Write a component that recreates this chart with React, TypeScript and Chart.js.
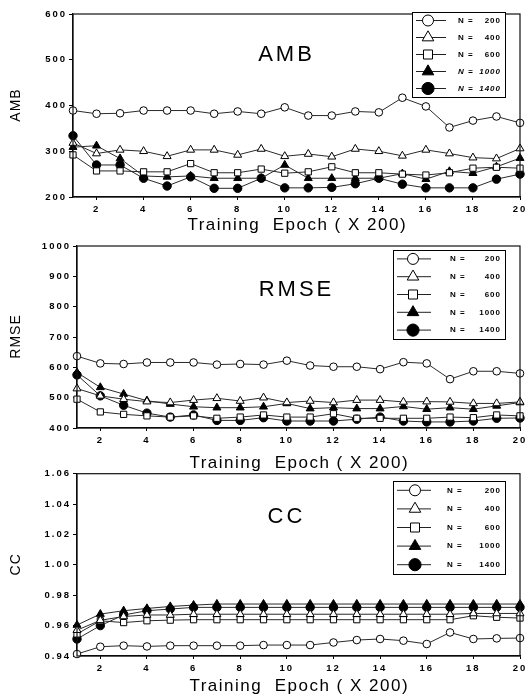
import React, { useEffect, useRef } from 'react';
import { Chart, registerables } from 'chart.js';

Chart.register(...registerables);

// ---------- data ----------
const epochs = [1, 2, 3, 4, 5, 6, 7, 8, 9, 10, 11, 12, 13, 14, 15, 16, 17, 18, 19, 20];
const xTickValues = [2, 4, 6, 8, 10, 12, 14, 16, 18, 20];
const seriesLabels = ['N =  200', 'N =  400', 'N =  600', 'N = 1000', 'N = 1400'];

const ambN200 = [389, 382, 383, 389, 389, 389, 382, 387, 382, 396, 378, 378, 387, 385, 417, 398, 352, 367, 376, 362];
const ambN400 = [318, 295, 303, 300, 289, 303, 303, 292, 305, 289, 294, 288, 305, 300, 290, 303, 295, 286, 284, 306];
const ambN600 = [292, 257, 257, 255, 255, 273, 253, 253, 261, 252, 255, 266, 253, 253, 250, 248, 253, 263, 265, 263];
const ambN1000 = [309, 312, 284, 246, 244, 246, 241, 241, 241, 270, 241, 241, 241, 241, 251, 239, 256, 252, 266, 285];
const ambN1400 = [334, 270, 270, 241, 224, 244, 219, 219, 241, 220, 220, 221, 229, 241, 228, 220, 220, 220, 239, 250];
const ambTicks = [200, 300, 400, 500, 600];

const rmseN200 = [637, 613, 611, 616, 616, 616, 609, 611, 609, 622, 606, 602, 602, 594, 617, 613, 561, 587, 587, 580];
const rmseN400 = [530, 506, 495, 487, 484, 492, 498, 489, 500, 484, 489, 484, 492, 492, 486, 487, 486, 481, 481, 486];
const rmseN600 = [495, 453, 445, 440, 436, 440, 432, 436, 443, 436, 436, 447, 432, 432, 432, 432, 436, 434, 443, 440];
const rmseN1000 = [583, 534, 512, 490, 479, 470, 467, 467, 470, 481, 464, 467, 464, 464, 471, 462, 467, 462, 473, 484];
const rmseN1400 = [575, 506, 475, 449, 436, 443, 425, 425, 434, 423, 423, 423, 429, 436, 423, 420, 420, 423, 432, 433];
const rmseTicks = [400, 500, 600, 700, 800, 900, 1000];

const ccN200 = [0.9413, 0.9461, 0.9468, 0.9463, 0.9468, 0.9468, 0.9468, 0.9468, 0.9472, 0.9472, 0.9472, 0.9489, 0.9505, 0.9512, 0.9501, 0.9479, 0.9555, 0.9512, 0.9516, 0.9518];
const ccN400 = [0.9570, 0.9635, 0.9660, 0.9670, 0.9670, 0.9675, 0.9675, 0.9675, 0.9675, 0.9675, 0.9675, 0.9675, 0.9675, 0.9675, 0.9675, 0.9675, 0.9675, 0.9680, 0.9680, 0.9680];
const ccN600 = [0.9545, 0.9632, 0.9620, 0.9632, 0.9636, 0.9639, 0.9639, 0.9639, 0.9639, 0.9639, 0.9639, 0.9639, 0.9639, 0.9639, 0.9639, 0.9639, 0.9639, 0.9665, 0.9655, 0.9650];
const ccN1000 = [0.9604, 0.9676, 0.9698, 0.9713, 0.9726, 0.9735, 0.9742, 0.9742, 0.9742, 0.9742, 0.9742, 0.9742, 0.9742, 0.9742, 0.9742, 0.9742, 0.9742, 0.9742, 0.9742, 0.9742];
const ccN1400 = [0.9512, 0.9600, 0.9670, 0.9698, 0.9709, 0.9720, 0.9720, 0.9720, 0.9720, 0.9720, 0.9720, 0.9720, 0.9720, 0.9720, 0.9720, 0.9720, 0.9720, 0.9720, 0.9720, 0.9720];
const ccTicks = [0.94, 0.96, 0.98, 1.0, 1.02, 1.04, 1.06];

// ---------- styles ----------
const FONT = '"Liberation Sans", Arial, sans-serif';
const markerStyles = ['circle', 'triangle', 'rect', 'triangle', 'circle'];
const markerFills = ['#ffffff', '#ffffff', '#ffffff', '#000000', '#000000'];
const markerRadii = [3.8, 4.6, 4.4, 4.6, 4.2];

type PanelCfg = {
  top: number;
  height: number;
  padTop: number;
  yAxisWidth: number;
  xAxisHeight: number;
  padRight: number;
  yMin: number;
  yMax: number;
  yTicks: number[];
  decimals: number;
  yTitle: string;
  inner: string;
  innerX: number;
  innerY: number;
  xTitleY: number;
  yTitleX: number;
  legend: { x: number; y: number; w: number; h: number; lx0: number; lx1: number; mx: number; tx: number; nr: number; italicBig: boolean };
  series: number[][];
};

const panels: PanelCfg[] = [
  {
    top: 0, height: 240, padTop: 14, yAxisWidth: 73, xAxisHeight: 43, padRight: 12,
    yMin: 200, yMax: 600, yTicks: ambTicks, decimals: 0,
    yTitle: 'AMB', inner: 'AMB', innerX: 285, innerY: 55, xTitleY: 225, yTitleX: 16,
    legend: { x: 412, y: 12, w: 93, h: 85, lx0: 4, lx1: 34, mx: 16, tx: 46, nr: 89, italicBig: true },
    series: [ambN200, ambN400, ambN600, ambN1000, ambN1400],
  },
  {
    top: 236, height: 236, padTop: 10, yAxisWidth: 77, xAxisHeight: 44, padRight: 12,
    yMin: 400, yMax: 1000, yTicks: rmseTicks, decimals: 0,
    yTitle: 'RMSE', inner: 'RMSE', innerX: 295, innerY: 54, xTitleY: 227, yTitleX: 16,
    legend: { x: 393, y: 14, w: 112, h: 89, lx0: 4, lx1: 38, mx: 20, tx: 57, nr: 108, italicBig: false },
    series: [rmseN200, rmseN400, rmseN600, rmseN1000, rmseN1400],
  },
  {
    top: 466, height: 233, padTop: 7, yAxisWidth: 77, xAxisHeight: 43, padRight: 12,
    yMin: 0.94, yMax: 1.06, yTicks: ccTicks, decimals: 2,
    yTitle: 'CC', inner: 'CC', innerX: 285, innerY: 51, xTitleY: 220, yTitleX: 16,
    legend: { x: 393, y: 15, w: 112, h: 93, lx0: 4, lx1: 38, mx: 22, tx: 54, nr: 108, italicBig: false },
    series: [ccN200, ccN400, ccN600, ccN1000, ccN1400],
  },
];

function drawMarker(ctx: CanvasRenderingContext2D, style: string, r: number, x: number, y: number) {
  ctx.beginPath();
  if (style === 'circle') {
    ctx.arc(x, y, r, 0, Math.PI * 2);
  } else if (style === 'triangle') {
    const a = -Math.PI / 2;
    for (let k = 0; k < 3; k++) {
      const ang = a + (k * 2 * Math.PI) / 3;
      const px = x + Math.cos(ang) * r;
      const py = y + Math.sin(ang) * r;
      if (k === 0) ctx.moveTo(px, py);
      else ctx.lineTo(px, py);
    }
    ctx.closePath();
  } else {
    const s = r * Math.SQRT1_2;
    ctx.rect(x - s, y - s, 2 * s, 2 * s);
  }
  ctx.fill();
  ctx.lineWidth = 1;
  ctx.stroke();
}

// letter spacing for the tick labels (scales are drawn between beforeDraw and beforeDatasetsDraw)
const spacingPlugin = {
  id: 'tickSpacing',
  beforeDraw(chart: any) {
    (chart.ctx as any).letterSpacing = '2px';
  },
  beforeDatasetsDraw(chart: any) {
    (chart.ctx as any).letterSpacing = '0px';
  },
};

const decorPlugin = {
  id: 'decor',
  afterDraw(chart: any, _args: any, opts: any) {
    const cfg: PanelCfg = opts.cfg;
    const { ctx, chartArea } = chart;
    const ca = chartArea;
    ctx.save();
    // frame
    ctx.strokeStyle = '#111';
    ctx.lineWidth = 1.2;
    ctx.strokeRect(ca.left, ca.top, ca.right - ca.left, ca.bottom - ca.top);

    ctx.fillStyle = '#000';
    ctx.textAlign = 'center';
    ctx.textBaseline = 'middle';

    // inner title
    ctx.font = `22px ${FONT}`;
    (ctx as any).letterSpacing = '3px';
    ctx.fillText(cfg.inner, cfg.innerX + 1.5, cfg.innerY);

    // x title
    ctx.font = `17px ${FONT}`;
    (ctx as any).letterSpacing = '1.5px';
    ctx.fillText('Training  Epoch ( X 200)', (ca.left + ca.right) / 2 + 0.75, cfg.xTitleY);

    // y title
    ctx.save();
    ctx.translate(cfg.yTitleX, (ca.top + ca.bottom) / 2);
    ctx.rotate(-Math.PI / 2);
    ctx.font = `14px ${FONT}`;
    (ctx as any).letterSpacing = '1px';
    ctx.fillText(cfg.yTitle, 0.5, 0);
    ctx.restore();

    // legend
    (ctx as any).letterSpacing = '0px';
    const L = cfg.legend;
    ctx.fillStyle = '#fff';
    ctx.fillRect(L.x, L.y, L.w, L.h);
    ctx.strokeStyle = '#000';
    ctx.lineWidth = 1;
    ctx.strokeRect(L.x + 0.5, L.y + 0.5, L.w, L.h);
    const rowH = L.h / 5;
    chart.data.datasets.forEach((ds: any, i: number) => {
      const y = L.y + rowH * (i + 0.5);
      ctx.strokeStyle = '#222';
      ctx.lineWidth = 1;
      ctx.beginPath();
      ctx.moveTo(L.x + L.lx0, y);
      ctx.lineTo(L.x + L.lx1, y);
      ctx.stroke();
      ctx.fillStyle = markerFills[i];
      ctx.strokeStyle = '#000';
      drawMarker(ctx, markerStyles[i], markerRadii[i] * 1.45, L.x + L.mx, y);
      const label: string = ds.label;
      const parts = label.split('=');
      const italic = L.italicBig && i >= 3 ? 'italic ' : '';
      ctx.font = `${italic}bold 8px ${FONT}`;
      (ctx as any).letterSpacing = '1px';
      ctx.fillStyle = '#000';
      ctx.textAlign = 'left';
      ctx.fillText(parts[0].trim() + ' =', L.x + L.tx, y);
      ctx.textAlign = 'right';
      ctx.fillText(parts[1].trim(), L.x + L.nr, y);
      (ctx as any).letterSpacing = '0px';
    });
    ctx.restore();
  },
};

function Panel({ cfg }: { cfg: PanelCfg }) {
  const ref = useRef<HTMLCanvasElement | null>(null);
  useEffect(() => {
    if (!ref.current) return;
    const datasets = cfg.series.map((vals, i) => ({
      label: seriesLabels[i],
      data: epochs.map((e, j) => ({ x: e, y: vals[j] })),
      borderColor: '#2a2a2a',
      borderWidth: 1,
      pointStyle: markerStyles[i] as any,
      pointRadius: markerRadii[i],
      pointBackgroundColor: markerFills[i],
      pointBorderColor: '#000',
      pointBorderWidth: 1,
      tension: 0,
      clip: false as any,
    }));
    const chart = new Chart(ref.current, {
      type: 'line',
      data: { datasets },
      plugins: [spacingPlugin as any, decorPlugin as any],
      options: {
        animation: false,
        responsive: false,
        devicePixelRatio: 1,
        events: [],
        layout: { padding: { top: cfg.padTop, right: cfg.padRight, left: 0, bottom: 0 } },
        plugins: {
          legend: { display: false },
          tooltip: { enabled: false },
          decor: { cfg },
        } as any,
        scales: {
          x: {
            type: 'linear',
            min: 1,
            max: 20,
            afterBuildTicks: (scale: any) => {
              scale.ticks = xTickValues.map((v) => ({ value: v }));
            },
            afterFit: (scale: any) => {
              scale.height = cfg.xAxisHeight;
            },
            grid: { display: true, drawOnChartArea: false, drawTicks: true, tickLength: 3, color: '#000' },
            border: { display: true, color: '#000', width: 1.2 },
            ticks: {
              color: '#000',
              font: { family: FONT, size: 9.5, weight: 'bold' },
              padding: 4,
              maxRotation: 0,
              autoSkip: false,
            },
          },
          y: {
            type: 'linear',
            min: cfg.yMin,
            max: cfg.yMax,
            afterBuildTicks: (scale: any) => {
              scale.ticks = cfg.yTicks.map((v) => ({ value: v }));
            },
            afterFit: (scale: any) => {
              scale.width = cfg.yAxisWidth;
            },
            grid: { display: true, drawOnChartArea: false, drawTicks: true, tickLength: 4, color: '#000' },
            border: { display: true, color: '#000', width: 1.2 },
            ticks: {
              color: '#000',
              font: { family: FONT, size: 9.5, weight: 'bold' },
              padding: 2,
              autoSkip: false,
              callback: (v: any) => Number(v).toFixed(cfg.decimals),
            },
          },
        },
      },
    });
    return () => chart.destroy();
  }, [cfg]);
  return (
    <canvas
      ref={ref}
      width={532}
      height={cfg.height}
      style={{ position: 'absolute', left: 0, top: cfg.top, width: 532, height: cfg.height }}
    />
  );
}

export default function App() {
  return (
    <div style={{ position: 'absolute', left: 0, top: 0, width: 532, height: 699, background: '#fff', overflow: 'hidden' }}>
      {panels.map((p, i) => (
        <Panel key={i} cfg={p} />
      ))}
    </div>
  );
}
